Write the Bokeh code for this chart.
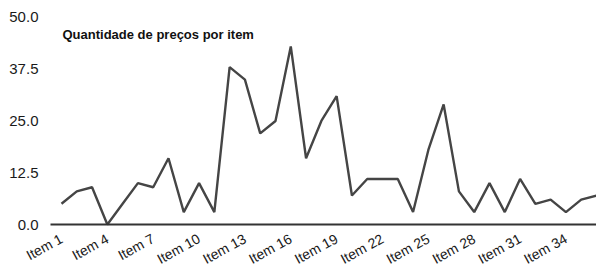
from bokeh.plotting import figure
from bokeh.models import Range1d, FixedTicker, Label
from bokeh.embed import file_html
from bokeh.resources import INLINE

items = [f"Item {i}" for i in range(1, 37)]
counts = [5, 8, 9, 0, 5, 10, 9, 16, 3, 10, 3, 38, 35, 22, 25, 43, 16, 25,
          31, 7, 11, 11, 11, 3, 18, 29, 8, 3, 10, 3, 11, 5, 6, 3, 6, 7]
y_ticks = [0, 12.5, 25, 37.5, 50]
title_text = "Quantidade de preços por item"

xs = list(range(1, len(items) + 1))
x_ticks = xs[::3]

p = figure(width=596, height=265, output_backend="svg", toolbar_location=None,
           x_range=Range1d(-2.99, 36), y_range=Range1d(-9.9, 54.1),
           min_border_left=0, min_border_right=0, min_border_top=0,
           min_border_bottom=0)
p.outline_line_color = None
p.grid.visible = False
p.background_fill_color = "white"

p.line(xs, counts, line_color="#454545", line_width=2.4)

font = "Liberation Sans"
p.xaxis.fixed_location = 0
p.xaxis.bounds = (0.28, 36)
p.xaxis.ticker = FixedTicker(ticks=x_ticks)
p.xaxis.major_label_overrides = {x: items[x - 1] for x in x_ticks}
p.xaxis.major_label_orientation = 0.5
p.xaxis.major_tick_in = 0
p.xaxis.major_tick_out = 0
p.xaxis.minor_tick_line_color = None
p.xaxis.axis_line_color = "#333333"
p.xaxis.axis_line_width = 2
p.xaxis.major_label_standoff = 13
p.xaxis.major_label_text_font = font
p.xaxis.major_label_text_font_size = "14px"
p.xaxis.major_label_text_color = "#1a1a1a"

p.yaxis.fixed_location = 0.28
p.yaxis.ticker = FixedTicker(ticks=y_ticks)
p.yaxis.major_label_overrides = {t: f"{t:.1f}" for t in y_ticks}
p.yaxis.major_tick_in = 0
p.yaxis.major_tick_out = 0
p.yaxis.minor_tick_line_color = None
p.yaxis.axis_line_color = None
p.yaxis.major_label_standoff = 12
p.yaxis.major_label_text_font = font
p.yaxis.major_label_text_font_size = "15px"
p.yaxis.major_label_text_color = "#1a1a1a"

p.add_layout(Label(x=62, y=231, x_units="screen", y_units="screen",
                   text=title_text, text_font=font, text_font_style="bold",
                   text_font_size="13px", text_color="#111111",
                   text_baseline="middle"))

open("out.html", "w").write(file_html(p, INLINE))
